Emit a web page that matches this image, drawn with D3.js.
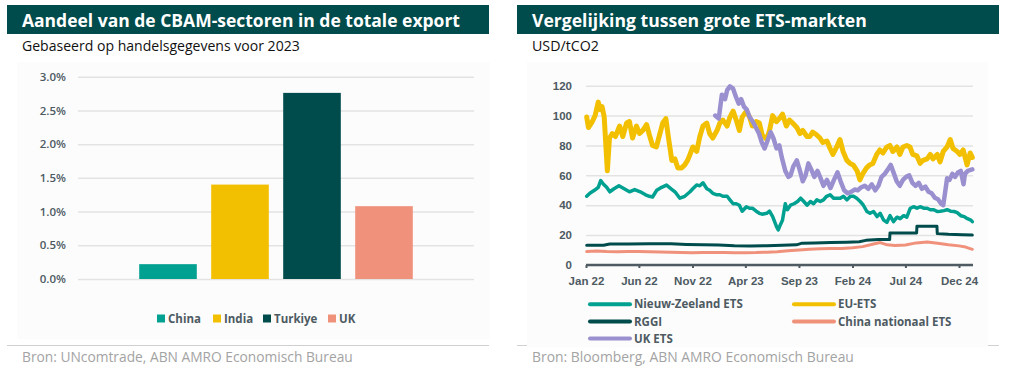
<!DOCTYPE html>
<html><head><meta charset="utf-8">
<script src="https://cdn.jsdelivr.net/npm/d3@7"></script>
<style>
html,body{margin:0;padding:0;background:#fff;}
svg{display:block;font-family:"Open Sans","Noto Sans",sans-serif;}
</style></head>
<body>
<svg id="c" width="1010" height="380"></svg>
<script>
// ---------- Left chart data ----------
const barCategories = ["China", "India", "Turkiye", "UK"];
const barValues = [0.22, 1.40, 2.76, 1.08];
const barTickValues = [0, 0.5, 1.0, 1.5, 2.0, 2.5, 3.0];
const barTickLabels = ["0.0%", "0.5%", "1.0%", "1.5%", "2.0%", "2.5%", "3.0%"];

// ---------- Right chart data ----------
const lineTickValues = [0, 20, 40, 60, 80, 100, 120];
const xTickDates = ["2022-01-01","2022-06-01","2022-11-01","2023-04-01","2023-09-01","2024-02-01","2024-07-01","2024-12-01"];
const xTickLabels = ["Jan 22","Jun 22","Nov 22","Apr 23","Sep 23","Feb 24","Jul 24","Dec 24"];
const seriesNames = ["Nieuw-Zeeland ETS", "EU-ETS", "RGGI", "China nationaal ETS", "UK ETS"];

const nzEts = [
["2022-01-03",46],["2022-01-12",48],["2022-01-25",50],["2022-02-05",52],["2022-02-12",56.5],["2022-02-20",54],
["2022-03-01",52],["2022-03-10",49],["2022-03-22",51],["2022-04-05",53],["2022-04-20",51],["2022-05-05",49],
["2022-05-20",50.5],["2022-06-05",49],["2022-06-20",47],["2022-07-01",46],["2022-07-10",45.5],["2022-07-22",50],
["2022-08-05",52],["2022-08-19",53.5],["2022-09-01",51],["2022-09-12",49],["2022-09-26",44.7],["2022-10-10",46],
["2022-10-25",49],["2022-11-02",51],["2022-11-13",53.6],["2022-11-22",53],["2022-12-01",55],["2022-12-12",51],
["2022-12-20",50],["2022-12-29",48],["2023-01-10",47],["2023-01-18",47],["2023-01-27",46],["2023-02-08",46],
["2023-02-16",43.6],["2023-02-25",41],["2023-03-06",41],["2023-03-15",40],["2023-03-23",36],["2023-04-04",39],
["2023-04-13",38],["2023-04-21",38],["2023-05-02",36],["2023-05-11",34.6],["2023-05-19",34],["2023-06-01",34.6],
["2023-06-09",36],["2023-06-18",32.4],["2023-06-29",25.7],["2023-07-04",23.5],["2023-07-10",27],["2023-07-16",30],
["2023-07-24",41],["2023-07-30",37],["2023-08-08",40],["2023-08-18",41],["2023-08-28",42.5],["2023-09-06",44.7],
["2023-09-15",42.5],["2023-09-24",40],["2023-10-04",42.5],["2023-10-13",41],["2023-10-22",43.6],["2023-11-01",42.5],
["2023-11-10",43.6],["2023-11-19",46],["2023-11-29",47],["2023-12-09",44.7],["2023-12-18",44.7],["2023-12-28",44.7],
["2024-01-06",46],["2024-01-16",43.6],["2024-01-26",46],["2024-02-04",46],["2024-02-13",44.7],["2024-02-23",42.5],
["2024-03-03",40],["2024-03-13",35.8],["2024-03-22",34.6],["2024-04-01",35.8],["2024-04-11",32.4],["2024-04-20",34.6],
["2024-04-30",30],["2024-05-09",28.5],["2024-05-18",33],["2024-05-28",29],["2024-06-07",32],["2024-06-16",31],
["2024-06-26",33],["2024-07-05",32],["2024-07-15",38],["2024-07-24",39],["2024-08-03",38],["2024-08-12",39],
["2024-08-22",38],["2024-09-01",38],["2024-09-10",37],["2024-09-20",37],["2024-09-30",35.8],["2024-10-09",36],
["2024-10-19",36.4],["2024-10-28",37],["2024-11-07",36],["2024-11-17",35.8],["2024-11-26",35],["2024-12-06",33],
["2024-12-16",32.4],["2024-12-25",31],["2025-01-04",30],["2025-01-08",29]
];

const euEts = [
["2022-01-03",99],["2022-01-08",92],["2022-01-19",96],["2022-01-27",100],["2022-02-05",109],["2022-02-11",104],
["2022-02-16",106],["2022-02-22",99],["2022-03-03",63],["2022-03-09",85],["2022-03-17",88],["2022-03-26",86],
["2022-04-07",93],["2022-04-16",86],["2022-04-27",95],["2022-05-05",96],["2022-05-14",85],["2022-05-25",93],
["2022-06-03",88],["2022-06-12",90],["2022-06-23",94],["2022-07-01",87],["2022-07-10",80],["2022-07-21",79],
["2022-07-30",87],["2022-08-08",95],["2022-08-17",98],["2022-08-24",86],["2022-09-03",70],["2022-09-12",71],
["2022-09-20",65],["2022-10-01",65],["2022-10-10",67],["2022-10-18",70],["2022-10-25",74],["2022-11-02",79],
["2022-11-13",76],["2022-11-22",86],["2022-12-01",93],["2022-12-12",95],["2022-12-20",88],["2022-12-29",85],
["2023-01-10",90],["2023-01-18",95],["2023-01-27",97],["2023-02-08",93],["2023-02-16",99],["2023-02-25",103],
["2023-03-06",97],["2023-03-15",90],["2023-03-23",99],["2023-04-04",103],["2023-04-13",99],["2023-04-21",93],
["2023-05-02",96],["2023-05-11",95],["2023-05-19",87],["2023-06-01",84],["2023-06-09",90],["2023-06-18",100],
["2023-06-29",96],["2023-07-07",98],["2023-07-16",101],["2023-07-27",93],["2023-08-05",97],["2023-08-14",95],
["2023-08-26",92],["2023-09-04",88],["2023-09-12",90],["2023-09-24",86],["2023-10-02",86],["2023-10-10",89],
["2023-10-22",87],["2023-10-31",85],["2023-11-08",82],["2023-11-20",83],["2023-11-29",78],["2023-12-07",74],
["2023-12-18",79],["2023-12-27",84],["2024-01-05",76],["2024-01-16",70],["2024-01-25",68],["2024-02-03",67],
["2024-02-14",63],["2024-02-22",57],["2024-03-01",61],["2024-03-12",65],["2024-03-21",67],["2024-03-30",68],
["2024-04-10",74],["2024-04-19",77],["2024-04-28",75],["2024-05-09",79],["2024-05-18",80],["2024-05-26",76],
["2024-06-07",79],["2024-06-15",74],["2024-06-24",79],["2024-07-05",80],["2024-07-14",79],["2024-07-22",74],
["2024-08-03",73],["2024-08-12",68],["2024-08-20",70],["2024-09-01",71],["2024-09-10",74],["2024-09-18",71],
["2024-09-30",74],["2024-10-08",69],["2024-10-17",76],["2024-10-28",79],["2024-11-06",84],["2024-11-14",78],
["2024-11-26",76],["2024-12-04",74],["2024-12-13",77],["2024-12-24",67],["2025-01-02",75],["2025-01-08",72]
];

const rggi = [
["2022-01-03",13.2],["2022-02-20",13.2],["2022-03-10",14],["2022-05-01",14.1],["2022-07-01",14.3],["2022-09-01",14.2],
["2022-10-15",13.8],["2022-12-01",13.6],["2023-01-15",13.4],["2023-03-01",12.9],["2023-04-15",12.7],["2023-06-01",12.9],
["2023-07-15",13.2],["2023-08-25",13.5],["2023-09-10",14.6],["2023-10-15",14.8],["2023-12-01",15.1],["2024-01-15",15.3],
["2024-02-20",15.6],["2024-03-10",16.5],["2024-04-15",17],["2024-05-17",17],["2024-05-18",21.5],["2024-08-02",21.5],
["2024-08-03",26],["2024-09-29",26],["2024-09-30",21],["2024-11-01",20.5],["2024-12-10",20.2],["2025-01-08",20]
];

const chinaEts = [
["2022-01-03",9],["2022-02-01",9.4],["2022-03-01",9],["2022-04-01",8.8],["2022-05-01",9],["2022-06-01",9],
["2022-07-01",8.8],["2022-08-01",8.7],["2022-09-01",8.5],["2022-10-01",8.3],["2022-11-01",8.2],["2022-12-01",8.3],
["2023-01-01",8.3],["2023-02-01",8.4],["2023-03-01",8.2],["2023-04-01",8.2],["2023-05-01",8.3],["2023-06-01",8.6],
["2023-07-01",8.8],["2023-08-01",9.5],["2023-09-01",10],["2023-10-01",10.5],["2023-11-01",10.8],["2023-12-01",11],
["2024-01-01",11],["2024-02-01",11.5],["2024-03-01",12.3],["2024-04-01",14],["2024-04-20",15],["2024-05-10",13.5],
["2024-06-01",13],["2024-07-01",13.4],["2024-08-01",14.8],["2024-09-01",15.4],["2024-10-01",14.5],["2024-11-01",13.5],
["2024-12-01",12.8],["2024-12-20",12],["2025-01-08",10.5]
];

const ukEts = [
["2023-01-05",100],["2023-01-15",98],["2023-01-24",114],["2023-02-02",111],["2023-02-08",117],["2023-02-16",119.5],
["2023-02-25",118],["2023-03-06",112],["2023-03-13",108],["2023-03-20",111],["2023-03-28",106],["2023-04-05",104],
["2023-04-13",99],["2023-04-22",96],["2023-05-01",92],["2023-05-10",88],["2023-05-18",82],["2023-05-26",78],
["2023-06-03",83],["2023-06-12",89],["2023-06-20",85],["2023-06-29",78],["2023-07-07",80],["2023-07-14",72],
["2023-07-24",63],["2023-08-02",59],["2023-08-08",60],["2023-08-16",66],["2023-08-26",70],["2023-09-04",63],
["2023-09-12",56],["2023-09-20",60],["2023-09-28",68],["2023-10-06",64],["2023-10-15",59],["2023-10-24",63],
["2023-11-02",58],["2023-11-10",53],["2023-11-20",57],["2023-11-30",51.5],["2023-12-10",57],["2023-12-20",62],
["2023-12-29",56],["2024-01-08",50],["2024-01-18",48],["2024-01-28",49],["2024-02-07",50.5],["2024-02-16",50],
["2024-02-26",52],["2024-03-07",53],["2024-03-17",51],["2024-03-27",54],["2024-04-06",50],["2024-04-15",53],
["2024-04-24",59],["2024-05-03",61],["2024-05-12",64],["2024-05-20",67],["2024-05-28",62],["2024-06-06",56],
["2024-06-15",53],["2024-06-24",57],["2024-07-03",59],["2024-07-12",60],["2024-07-21",55],["2024-07-30",53],
["2024-08-08",55],["2024-08-17",51],["2024-08-27",52.5],["2024-09-05",49],["2024-09-14",48],["2024-09-23",45],
["2024-10-02",44],["2024-10-11",41],["2024-10-17",40],["2024-10-22",48],["2024-10-28",58],["2024-11-04",57],
["2024-11-12",61],["2024-11-20",59],["2024-11-28",62],["2024-12-06",63],["2024-12-14",54],["2024-12-18",61],
["2024-12-26",63],["2025-01-08",64]
];

// ---------- Styles ----------
const DARK = "#004b4b";
const barColors = ["#00a191", "#f2c000", "#004b4b", "#f0917b"];
const lineColors = ["#00a191", "#f2c000", "#004b4b", "#f0917b", "#9b90cf"];
const lineWidths = [3.5, 5, 3, 3, 4.5];
const AXIS_TXT = "#4d5a62";
const GRID = "#e3e3e3";

const svg = d3.select("#c");
const parse = d3.timeParse("%Y-%m-%d");

function fitWidth(sel, w) {
  const l = sel.node().getComputedTextLength();
  const fs = parseFloat(sel.attr("font-size"));
  sel.attr("font-size", (fs * w / l).toFixed(2));
}

function panel(x0, x1, title, titleW, subtitle, subW, source, sourceW) {
  svg.append("rect").attr("x", x0).attr("y", 5).attr("width", x1 - x0).attr("height", 29).attr("fill", DARK);
  const t = svg.append("text").attr("x", x0 + 15).attr("y", 26.5).attr("fill", "#fff")
    .attr("font-weight", 700).attr("font-size", 18).text(title);
  fitWidth(t, titleW);
  const s = svg.append("text").attr("x", x0 + 15).attr("y", 50.5).attr("fill", "#111")
    .attr("font-size", 13).text(subtitle);
  fitWidth(s, subW);
  svg.append("line").attr("x1", x0).attr("x2", x1).attr("y1", 345.5).attr("y2", 345.5)
    .attr("stroke", "#d0d0d0").attr("stroke-width", 1);
  const src = svg.append("text").attr("x", x0 + 15).attr("y", 362).attr("fill", "#a3a3a3")
    .attr("font-size", 13).text(source);
  fitWidth(src, sourceW);
}

panel(7, 489, "Aandeel van de CBAM-sectoren in de totale export", 438,
  "Gebaseerd op handelsgegevens voor 2023", 278,
  "Bron: UNcomtrade, ABN AMRO Economisch Bureau", 331);
panel(517, 999, "Vergelijking tussen grote ETS-markten", 335,
  "USD/tCO2", 67,
  "Bron: Bloomberg, ABN AMRO Economisch Bureau", 322);

// faint plot boxes
svg.append("rect").attr("x", 17).attr("y", 62).attr("width", 473).attr("height", 277).attr("fill", "#fcfcfc");
svg.append("rect").attr("x", 527).attr("y", 62).attr("width", 461).attr("height", 285).attr("fill", "#fcfcfc");

// ---------- Left: bar chart ----------
{
  const yB = d3.scaleLinear().domain([0, 3]).range([279, 76.7]);
  const xB = d3.scaleBand().domain(barCategories).range([78, 474]).paddingInner(0.2).paddingOuter(0.85);
  const g = svg.append("g");
  const ax = d3.axisLeft(yB).tickValues(barTickValues).tickSize(-(474 - 78))
    .tickFormat((d, i) => barTickLabels[i]).tickPadding(12);
  const ag = g.append("g").attr("transform", "translate(78,0)").call(ax);
  ag.select(".domain").remove();
  ag.selectAll(".tick line").attr("stroke", GRID).attr("stroke-width", 1.5);
  ag.selectAll(".tick text").attr("fill", AXIS_TXT).attr("font-size", 11.5).attr("font-weight", 600)
    .attr("font-family", "Open Sans");
  g.selectAll("rect.bar").data(barCategories).join("rect").attr("class", "bar")
    .attr("x", d => xB(d)).attr("width", xB.bandwidth())
    .attr("y", (d, i) => yB(barValues[i])).attr("height", (d, i) => yB(0) - yB(barValues[i]))
    .attr("fill", (d, i) => barColors[i]);
  // legend
  const legX = [157, 213, 263, 328];
  barCategories.forEach((c, i) => {
    g.append("rect").attr("x", legX[i]).attr("y", 314.5).attr("width", 8).attr("height", 8).attr("fill", barColors[i]);
    g.append("text").attr("x", legX[i] + 11).attr("y", 323).attr("fill", AXIS_TXT)
      .attr("font-size", 11.5).attr("font-weight", 700).text(c);
  });
}

// ---------- Right: line chart ----------
{
  const x = d3.scaleTime().domain([parse("2022-01-01"), parse("2025-01-10")]).range([586, 973]);
  const y = d3.scaleLinear().domain([0, 120]).range([265, 85.7]);
  const g = svg.append("g");
  const ay = d3.axisLeft(y).tickValues(lineTickValues).tickSize(-(973 - 586)).tickPadding(14);
  const ag = g.append("g").attr("transform", "translate(586,0)").call(ay);
  ag.select(".domain").remove();
  ag.selectAll(".tick line").attr("stroke", GRID).attr("stroke-width", 1.5);
  ag.selectAll(".tick text").attr("fill", AXIS_TXT).attr("font-size", 11.5).attr("font-weight", 600);

  const all = [nzEts, euEts, rggi, chinaEts, ukEts];
  const line = d3.line().x(d => x(parse(d[0]))).y(d => y(d[1]));
  all.forEach((s, i) => {
    g.append("path").datum(s).attr("d", line).attr("fill", "none")
      .attr("stroke", lineColors[i]).attr("stroke-width", lineWidths[i])
      .attr("stroke-linejoin", "round").attr("stroke-linecap", "round");
  });

  const ax = d3.axisBottom(x).tickValues(xTickDates.map(parse))
    .tickFormat((d, i) => xTickLabels[i]).tickSize(3).tickPadding(9);
  const xg = g.append("g").attr("transform", "translate(0,265)").call(ax);
  xg.select(".domain").attr("stroke", "#4f5b62").attr("stroke-width", 2.5).attr("d", "M586,0H973");
  xg.selectAll(".tick line").attr("stroke", "#4f5b62").attr("stroke-width", 2).attr("y1", 0).attr("y2", 3);
  xg.selectAll(".tick text").attr("fill", AXIS_TXT).attr("font-size", 11.5).attr("font-weight", 600);

  // legend
  const pos = [[590, 304.3], [794, 304.3], [590, 321.5], [794, 321.5], [590, 338.5]];
  const order = [0, 1, 2, 3, 4];
  order.forEach((k, i) => {
    const [lx, ly] = pos[i];
    g.append("line").attr("x1", lx).attr("x2", lx + 40).attr("y1", ly).attr("y2", ly)
      .attr("stroke", lineColors[k]).attr("stroke-width", 4).attr("stroke-linecap", "round");
    g.append("text").attr("x", lx + 44).attr("y", ly + 4).attr("fill", AXIS_TXT)
      .attr("font-size", 11.5).attr("font-weight", 700).text(seriesNames[k]);
  });
}
</script>
</body></html>
